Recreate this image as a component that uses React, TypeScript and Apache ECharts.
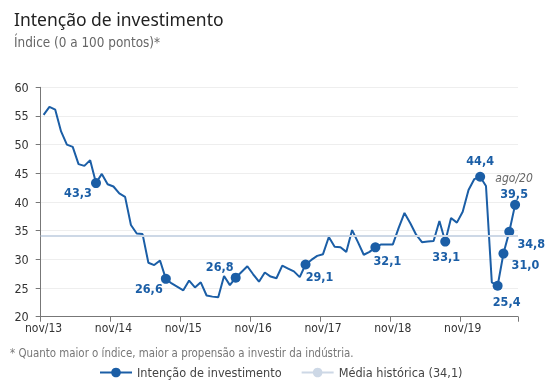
import React, { useEffect, useRef } from "react";
import * as echarts from "echarts";

const MONTHS = ["jan", "fev", "mar", "abr", "mai", "jun", "jul", "ago", "set", "out", "nov", "dez"];
// monthly categories from nov/13 to ago/20
const CATEGORIES: string[] = (() => {
  const out: string[] = [];
  let m = 10;
  let y = 13;
  while (!(y === 20 && m === 8)) {
    out.push(MONTHS[m] + "/" + y);
    m++;
    if (m === 12) {
      m = 0;
      y++;
    }
  }
  return out;
})();

const VALUES = [
  55.2, 56.6, 56.1, 52.3, 50.0, 49.6, 46.6, 46.3, 47.3, 43.3,
  44.9, 43.1, 42.7, 41.5, 40.9, 36.0, 34.5, 34.4, 29.4, 29.0,
  29.8, 26.6, 25.8, 25.2, 24.6, 26.3, 25.1, 26.0, 23.7, 23.5,
  23.4, 27.1, 25.5, 26.8, 27.8, 28.8, 27.4, 26.1, 27.7, 27.0,
  26.7, 28.9, 28.4, 27.9, 26.9, 29.1, 29.9, 30.6, 30.9, 33.9,
  32.2, 32.1, 31.3, 35.1, 33.0, 30.8, 31.3, 32.1, 32.6, 32.6,
  32.6, 35.5, 38.1, 36.3, 34.3, 33.0, 33.1, 33.2, 36.7, 33.1,
  37.2, 36.4, 38.3, 42.1, 44.0, 44.4, 42.8, 26.0, 25.4, 31.0,
  34.8, 39.5,
];

const MEAN = 34.1;
const SERIES_NAME = "Intenção de investimento";
const MEAN_NAME = "Média histórica (34,1)";
const Y_TICKS = [20, 25, 30, 35, 40, 45, 50, 55, 60];

// highlighted points (index into VALUES) and label offsets (layout only)
const KEY_INDEX = [9, 21, 33, 45, 57, 69, 75, 78, 79, 80, 81];
const LABEL_OFFSET: Record<number, [number, number]> = {
  9: [-18, 9],
  21: [-17, 10],
  33: [-16, -11],
  45: [14, 12],
  57: [12, 13],
  69: [1, 15],
  75: [0, -16],
  78: [9, 16],
  79: [22, 11],
  80: [22, 12],
  81: [-1, -19],
};

const BLUE = "#1b5ea6";
const FONT = "'DejaVu Sans Condensed', 'Noto Sans', sans-serif";

const fmt = (v: number) => v.toFixed(1).replace(".", ",");

export default function App() {
  const ref = useRef<HTMLDivElement>(null);
  useEffect(() => {
    if (!ref.current) return;
    const chart = echarts.init(ref.current, undefined, { renderer: "svg" });
    const data = VALUES.map((v, i) => {
      if (!KEY_INDEX.includes(i)) return { value: v, symbol: "none" };
      const last = i === VALUES.length - 1;
      return {
        value: v,
        symbol: "circle",
        symbolSize: 10,
        label: {
          show: true,
          position: "inside",
          offset: LABEL_OFFSET[i],
          formatter: last ? "{a|ago/20}\n{b|" + fmt(v) + "}" : fmt(v),
          rich: last
            ? {
                a: { fontFamily: FONT, fontStyle: "italic", fontWeight: "normal", fontSize: 12, color: "#666", lineHeight: 15, align: "center" },
                b: { fontFamily: FONT, fontWeight: "bold", fontSize: 12.5, color: BLUE, lineHeight: 15, align: "center" },
              }
            : undefined,
        },
      };
    });
    chart.setOption({
      animation: false,
      textStyle: { fontFamily: FONT },
      title: [
        {
          text: "Intenção de investimento",
          left: 9,
          top: 5,
          textStyle: { fontFamily: "'Noto Sans', sans-serif", fontSize: 17.5, fontWeight: "normal", color: "#222" },
        },
        {
          text: "Índice (0 a 100 pontos)*",
          left: 9,
          top: 31,
          textStyle: { fontFamily: FONT, fontSize: 13.4, fontWeight: "normal", color: "#666" },
        },
        {
          text: "* Quanto maior o índice, maior a propensão a investir da indústria.",
          left: 5,
          top: 342,
          textStyle: { fontFamily: FONT, fontSize: 11.4, fontWeight: "normal", color: "#777" },
        },
      ],
      legend: {
        left: 94,
        top: 361,
        itemWidth: 32,
        itemHeight: 12,
        itemGap: 19,
        textStyle: { fontFamily: FONT, fontSize: 12.6, color: "#444" },
        data: [SERIES_NAME, MEAN_NAME],
      },
      grid: { left: 40.7, right: 28, top: 87.3, bottom: 73.3, containLabel: false },
      xAxis: {
        type: "category",
        data: CATEGORIES,
        boundaryGap: true,
        axisLine: { lineStyle: { color: "#777", width: 1 } },
        axisTick: { show: true, interval: 11, length: 5, lineStyle: { color: "#777" } },
        axisLabel: { interval: 11, fontFamily: FONT, fontSize: 12, color: "#333", margin: 5 },
        splitLine: { show: false },
      },
      yAxis: {
        type: "value",
        min: Y_TICKS[0],
        max: Y_TICKS[Y_TICKS.length - 1],
        interval: 5,
        axisLine: { show: true, lineStyle: { color: "#777", width: 1 } },
        axisTick: { show: true, length: 5, lineStyle: { color: "#777" } },
        axisLabel: { fontFamily: FONT, fontSize: 12.5, color: "#333", margin: 12 },
        splitLine: { show: true, lineStyle: { color: "#eeeeee", width: 1 } },
      },
      series: [
        {
          name: SERIES_NAME,
          type: "line",
          data,
          symbol: "circle",
          symbolSize: 10,
          showAllSymbol: true,
          lineStyle: { color: BLUE, width: 2 },
          itemStyle: { color: BLUE },
          label: {
            show: false,
            position: "inside",
            fontFamily: FONT,
            fontSize: 12.5,
            fontWeight: "bold",
            color: BLUE,
          },
          z: 3,
        },
        {
          name: MEAN_NAME,
          type: "line",
          data: [],
          symbol: "none",
          lineStyle: { color: "#cdd8e6", width: 2 },
          itemStyle: { color: "#cdd8e6" },
          markLine: {
            silent: true,
            symbol: "none",
            label: { show: false },
            lineStyle: { color: "#cdd8e6", width: 2, type: "solid" },
            data: [{ yAxis: MEAN }],
          },
          z: 1,
        },
      ],
    });
    return () => chart.dispose();
  }, []);
  return <div ref={ref} style={{ position: "fixed", left: 0, top: 0, width: 546, height: 390 }} />;
}
